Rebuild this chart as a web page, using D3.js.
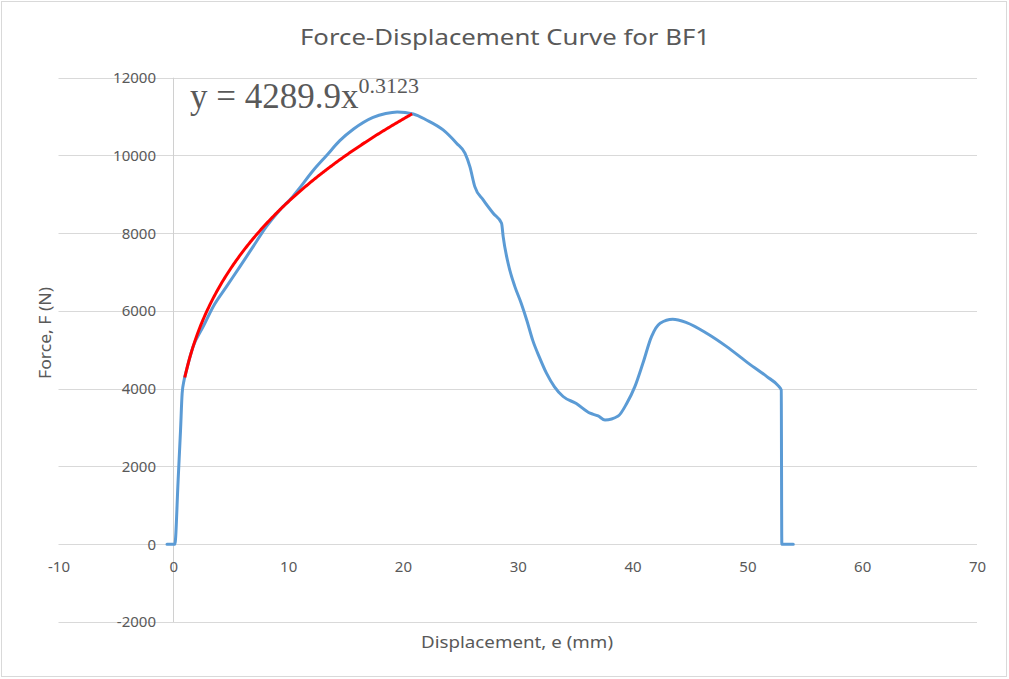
<!DOCTYPE html>
<html>
<head>
<meta charset="utf-8">
<script src="https://cdn.jsdelivr.net/npm/d3@7"></script>
<style>
  html, body { margin: 0; padding: 0; background: #ffffff; }
  svg { display: block; }
  text { font-family: "Noto Sans", "Open Sans", sans-serif; fill: #595959; }
</style>
</head>
<body>
<svg id="chart" width="1009" height="679"></svg>
<script>
// Measured displacement (mm) and force (N) for specimen BF1
const displacement = [-0.55, 0.13, 0.42, 0.63, 0.77, 0.94, 1.15, 1.72, 2.6, 3.47, 4.63, 5.8, 6.95, 8.1, 9.28,
  10.4, 10.87, 12.2, 13.35, 14.5, 15.7, 17.4, 18.5, 19.5, 20.9, 22.05, 23.5, 24.67, 25.4, 25.83, 26.26,
  26.99, 27.86, 28.59, 28.73, 29.16, 29.75, 30.3, 30.8, 31.3, 31.9, 32.5, 33.2, 33.95, 35.1, 36.3, 37.0, 37.6,
  38.75, 39.5, 40.2, 40.9, 41.65, 42.4, 43.5, 44.7, 46.45, 48.2, 49.9, 51.7, 52.7, 52.95, 53.0, 54.0];
const force = [0, 0, 1650, 2940, 3880, 4225, 4480, 5082, 5597, 6111, 6626, 7140, 7654, 8169, 8600,
  8940, 9113, 9620, 10000, 10380, 10680, 10980, 11080, 11120, 11067, 10913, 10656, 10314, 10057, 9712, 9198,
  8856, 8513, 8256, 7912, 7227, 6626, 6200, 5750, 5250, 4800, 4400, 4050, 3800, 3620, 3370, 3300, 3197,
  3300, 3627, 4054, 4655, 5340, 5684, 5787, 5700, 5427, 5083, 4698, 4311, 4072, 3969, 0, 0];

// Power-law trendline y = a * x^b fitted over the loading branch
const trendCoef = 4289.9;
const trendExp = 0.3123;
const trendRange = [1, 20.8];

const xTicks = [-10, 0, 10, 20, 30, 40, 50, 60, 70];
const yTicks = [-2000, 0, 2000, 4000, 6000, 8000, 10000, 12000];

const chartTitle = "Force-Displacement Curve for BF1";
const xTitle = "Displacement, e (mm)";
const yTitle = "Force, F (N)";

const svg = d3.select("#chart");

// chart frame
svg.append("rect")
  .attr("x", 1.5).attr("y", 1.5).attr("width", 1005).attr("height", 675)
  .attr("fill", "#ffffff").attr("stroke", "#d9d9d9").attr("stroke-width", 1);

const x = d3.scaleLinear().domain([-10, 70]).range([58.5, 977]);
const y = d3.scaleLinear().domain([-2000, 12000]).range([622, 77.7]);

// plain integer labels with an ASCII hyphen for negatives
const plainFormat = d => String(d);

// horizontal gridlines
svg.append("g")
  .selectAll("line")
  .data(yTicks)
  .join("line")
  .attr("x1", x(-10)).attr("x2", x(70))
  .attr("y1", d => Math.round(y(d)) + 0.5).attr("y2", d => Math.round(y(d)) + 0.5)
  .attr("stroke", "#d9d9d9").attr("stroke-width", 1);

// vertical value axis at x = 0
svg.append("line")
  .attr("x1", Math.round(x(0)) + 0.5).attr("x2", Math.round(x(0)) + 0.5)
  .attr("y1", y(12000)).attr("y2", y(-2000))
  .attr("stroke", "#d0d0d0").attr("stroke-width", 1);

// y tick labels
const yAxis = d3.axisLeft(y).tickValues(yTicks).tickSize(0).tickPadding(0).tickFormat(plainFormat);
const gy = svg.append("g").attr("transform", "translate(156,0)").call(yAxis);
gy.select(".domain").remove();
gy.selectAll("text").attr("font-size", 15).attr("fill", "#595959")
  .style("font-family", "'Noto Sans', sans-serif");

// x tick labels, placed just below the zero line
const xAxis = d3.axisBottom(x).tickValues(xTicks).tickSize(0).tickPadding(0).tickFormat(plainFormat);
const gx = svg.append("g").attr("transform", "translate(0,561)").call(xAxis);
gx.select(".domain").remove();
gx.selectAll("text").attr("font-size", 15).attr("fill", "#595959")
  .style("font-family", "'Noto Sans', sans-serif");

// measured curve
const line = d3.line()
  .x((d, i) => x(displacement[i]))
  .y((d, i) => y(force[i]))
  .curve(d3.curveMonotoneX);

svg.append("path")
  .datum(force)
  .attr("d", line)
  .attr("fill", "none")
  .attr("stroke", "#5b9bd5")
  .attr("stroke-width", 3)
  .attr("stroke-linejoin", "round")
  .attr("stroke-linecap", "round");

// power-law trendline
const trendX = d3.range(0, 201).map(i => trendRange[0] + (trendRange[1] - trendRange[0]) * i / 200);
const trendLine = d3.line()
  .x(d => x(d))
  .y(d => y(trendCoef * Math.pow(d, trendExp)));

svg.append("path")
  .datum(trendX)
  .attr("d", trendLine)
  .attr("fill", "none")
  .attr("stroke", "#ff0000")
  .attr("stroke-width", 3)
  .attr("stroke-linecap", "butt");

// trendline equation
const eq = svg.append("text")
  .attr("x", 190).attr("y", 108)
  .style("font-family", "'Liberation Serif', 'Times New Roman', serif")
  .attr("font-size", 35)
  .attr("fill", "#404040");
eq.append("tspan").text("y = " + trendCoef + "x");
eq.append("tspan").attr("dy", -15).attr("font-size", 22).text(String(trendExp));

// titles
svg.append("text")
  .attr("x", 505).attr("y", 45)
  .attr("text-anchor", "middle")
  .attr("font-size", 22)
  .attr("textLength", 410).attr("lengthAdjust", "spacingAndGlyphs")
  .text(chartTitle);

svg.append("text")
  .attr("x", 517).attr("y", 648)
  .attr("text-anchor", "middle")
  .attr("font-size", 16)
  .attr("textLength", 192).attr("lengthAdjust", "spacingAndGlyphs")
  .text(xTitle);

svg.append("text")
  .attr("transform", "translate(51,333) rotate(-90)")
  .attr("text-anchor", "middle")
  .attr("font-size", 16)
  .attr("textLength", 92).attr("lengthAdjust", "spacingAndGlyphs")
  .text(yTitle);
</script>
</body>
</html>
